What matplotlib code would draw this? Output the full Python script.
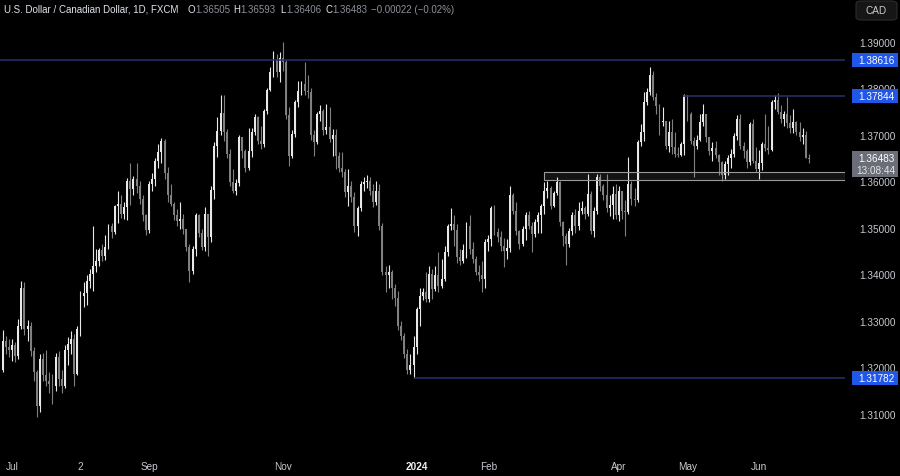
import numpy as np
import pandas as pd
import matplotlib
matplotlib.use("Agg")
import matplotlib.pyplot as plt
from matplotlib.patches import Rectangle, FancyBboxPatch

plt.rcParams["font.family"] = ["Liberation Sans", "DejaVu Sans"]

# ── Data: USD/CAD daily, FXCM ────────────────────────────────────────────────
dates = pd.bdate_range("2023-06-28", "2024-06-25")
first_open = 1.3195
last_open = 1.36505

close = [
    1.3258, 1.3245, 1.3238, 1.3248, 1.3225, 1.3290, 1.3370, 1.3283, 1.3290, 1.3236,
    1.3190, 1.3118, 1.3218, 1.3183, 1.3170, 1.3165, 1.3160, 1.3222, 1.3175, 1.3160,
    1.3238, 1.3250, 1.3262, 1.3185, 1.3283, 1.3354, 1.3360, 1.3385, 1.3400, 1.3419,
    1.3430, 1.3452, 1.3440, 1.3460, 1.3505, 1.3492, 1.3548, 1.3552, 1.3530, 1.3545,
    1.3600, 1.3584, 1.3605, 1.3590, 1.3562, 1.3527, 1.3495, 1.3595, 1.3605, 1.3645,
    1.3663, 1.3688, 1.3618, 1.3570, 1.3552, 1.3527, 1.3516, 1.3520, 1.3498, 1.3460,
    1.3408, 1.3455, 1.3527, 1.3490, 1.3460, 1.3530, 1.3480, 1.3582, 1.3677, 1.3709,
    1.3747, 1.3706, 1.3660, 1.3598, 1.3580, 1.3597, 1.3695, 1.3665, 1.3630, 1.3665,
    1.3707, 1.3738, 1.3688, 1.3680, 1.3752, 1.3797, 1.3835, 1.3862, 1.3835, 1.3865,
    1.3858, 1.3742, 1.3655, 1.3702, 1.3770, 1.3795, 1.3810, 1.3795, 1.3792, 1.3700,
    1.3685, 1.3745, 1.3752, 1.3710, 1.3717, 1.3691, 1.3699, 1.3655, 1.3630, 1.3620,
    1.3577, 1.3591, 1.3566, 1.3505, 1.3544, 1.3595, 1.3598, 1.3602, 1.3580, 1.3555,
    1.3580, 1.3505, 1.3405, 1.3398, 1.3405, 1.3372, 1.3350, 1.3290, 1.3268, 1.3230,
    1.3195, 1.3205, 1.3245, 1.3326, 1.3354, 1.3362, 1.3347, 1.3401, 1.3369, 1.3398,
    1.3376, 1.3390, 1.3448, 1.3505, 1.3509, 1.3495, 1.3437, 1.3430, 1.3452, 1.3505,
    1.3455, 1.3433, 1.3405, 1.3398, 1.3390, 1.3470, 1.3476, 1.3544, 1.3491, 1.3480,
    1.3462, 1.3450, 1.3458, 1.3570, 1.3537, 1.3494, 1.3466, 1.3498, 1.3527, 1.3505,
    1.3487, 1.3512, 1.3527, 1.3548, 1.3580, 1.3585, 1.3548, 1.3575, 1.3598, 1.3512,
    1.3483, 1.3466, 1.3494, 1.3527, 1.3505, 1.3537, 1.3544, 1.3530, 1.3573, 1.3494,
    1.3537, 1.3609, 1.3590, 1.3570, 1.3544, 1.3550, 1.3573, 1.3527, 1.3580, 1.3537,
    1.3534, 1.3595, 1.3562, 1.3560, 1.3684, 1.3706, 1.3770, 1.3792, 1.3828, 1.3781,
    1.3763, 1.3727, 1.3731, 1.3677, 1.3706, 1.3675, 1.3660, 1.3658, 1.3681, 1.3785,
    1.3745, 1.3688, 1.3677, 1.3690, 1.3727, 1.3745, 1.3695, 1.3666, 1.3672, 1.3656,
    1.3641, 1.3613, 1.3638, 1.3650, 1.3659, 1.3698, 1.3734, 1.3677, 1.3665, 1.3641,
    1.3724, 1.3645, 1.3627, 1.3640, 1.3681, 1.3673, 1.3668, 1.3770, 1.3775, 1.3750,
    1.3735, 1.3745, 1.3725, 1.3716, 1.3727, 1.3706, 1.3695, 1.3700, 1.3651, 1.36483,
]

high = [
    1.3280, 1.3268, 1.3262, 1.3262, 1.3255, 1.3305, 1.3387, 1.3384, 1.3302, 1.3298,
    1.3245, 1.3195, 1.3228, 1.3232, 1.3238, 1.3190, 1.3185, 1.3232, 1.3235, 1.3195,
    1.3248, 1.3265, 1.3278, 1.3272, 1.3290, 1.3365, 1.3383, 1.3398, 1.3412, 1.3505,
    1.3455, 1.3458, 1.3465, 1.3484, 1.3508, 1.3510, 1.3550, 1.3580, 1.3570, 1.3556,
    1.3608, 1.3640, 1.3612, 1.3640, 1.3600, 1.3570, 1.3530, 1.3602, 1.3618, 1.3650,
    1.3680, 1.3694, 1.3692, 1.3632, 1.3594, 1.3555, 1.3540, 1.3555, 1.3530, 1.3495,
    1.3465, 1.3462, 1.3532, 1.3530, 1.3498, 1.3545, 1.3530, 1.3590, 1.3685, 1.3738,
    1.3785, 1.3785, 1.3712, 1.3670, 1.3627, 1.3605, 1.3700, 1.3695, 1.3670, 1.3716,
    1.3716, 1.3745, 1.3740, 1.3720, 1.3756, 1.3800, 1.3846, 1.3881, 1.3874, 1.3878,
    1.3899, 1.3862, 1.3760, 1.3710, 1.3775, 1.3817, 1.3817, 1.3856, 1.3830, 1.3800,
    1.3710, 1.3750, 1.3765, 1.3756, 1.3767, 1.3760, 1.3713, 1.3713, 1.3663, 1.3663,
    1.3627, 1.3627, 1.3600, 1.3577, 1.3548, 1.3600, 1.3610, 1.3615, 1.3610, 1.3595,
    1.3600, 1.3595, 1.3510, 1.3419, 1.3420, 1.3410, 1.3380, 1.3365, 1.3300, 1.3275,
    1.3240, 1.3230, 1.3268, 1.3330, 1.3372, 1.3372, 1.3405, 1.3419, 1.3412, 1.3419,
    1.3448, 1.3433, 1.3462, 1.3508, 1.3544, 1.3527, 1.3509, 1.3455, 1.3465, 1.3513,
    1.3527, 1.3470, 1.3440, 1.3420, 1.3430, 1.3476, 1.3485, 1.3548, 1.3550, 1.3500,
    1.3494, 1.3478, 1.3476, 1.3591, 1.3575, 1.3555, 1.3495, 1.3505, 1.3534, 1.3537,
    1.3512, 1.3520, 1.3534, 1.3552, 1.3598, 1.3602, 1.3590, 1.3580, 1.3609, 1.3600,
    1.3515, 1.3490, 1.3500, 1.3535, 1.3540, 1.3555, 1.3558, 1.3548, 1.3616, 1.3580,
    1.3545, 1.3616, 1.3616, 1.3595, 1.3616, 1.3570, 1.3591, 1.3595, 1.3591, 1.3580,
    1.3560, 1.3652, 1.3600, 1.3585, 1.3690, 1.3724, 1.3792, 1.3800, 1.3846, 1.3838,
    1.3790, 1.3767, 1.3760, 1.3716, 1.3731, 1.3735, 1.3706, 1.3675, 1.3684, 1.3788,
    1.3785, 1.3750, 1.3695, 1.3700, 1.3745, 1.3767, 1.3745, 1.3695, 1.3684, 1.3688,
    1.3660, 1.3645, 1.3645, 1.3658, 1.3670, 1.3705, 1.3742, 1.3745, 1.3684, 1.3670,
    1.3727, 1.3734, 1.3675, 1.3668, 1.3684, 1.3745, 1.3720, 1.3775, 1.3785, 1.3791,
    1.3765, 1.3752, 1.3781, 1.3742, 1.3756, 1.3731, 1.3727, 1.3716, 1.3709, 1.36593,
]

low = [
    1.3190, 1.3228, 1.3222, 1.3215, 1.3212, 1.3218, 1.3282, 1.3270, 1.3258, 1.3225,
    1.3170, 1.3093, 1.3105, 1.3172, 1.3160, 1.3145, 1.3122, 1.3150, 1.3160, 1.3145,
    1.3155, 1.3205, 1.3228, 1.3160, 1.3183, 1.3268, 1.3330, 1.3335, 1.3372, 1.3365,
    1.3405, 1.3418, 1.3430, 1.3432, 1.3455, 1.3478, 1.3488, 1.3510, 1.3522, 1.3520,
    1.3518, 1.3550, 1.3570, 1.3575, 1.3552, 1.3515, 1.3485, 1.3490, 1.3580, 1.3590,
    1.3630, 1.3640, 1.3605, 1.3555, 1.3548, 1.3518, 1.3505, 1.3498, 1.3487, 1.3450,
    1.3383, 1.3400, 1.3440, 1.3480, 1.3452, 1.3450, 1.3440, 1.3470, 1.3562, 1.3652,
    1.3700, 1.3688, 1.3650, 1.3590, 1.3575, 1.3570, 1.3590, 1.3650, 1.3620, 1.3625,
    1.3652, 1.3700, 1.3680, 1.3670, 1.3675, 1.3745, 1.3795, 1.3825, 1.3825, 1.3815,
    1.3838, 1.3735, 1.3634, 1.3650, 1.3695, 1.3760, 1.3785, 1.3785, 1.3780, 1.3690,
    1.3655, 1.3680, 1.3730, 1.3700, 1.3702, 1.3685, 1.3655, 1.3627, 1.3620, 1.3610,
    1.3566, 1.3548, 1.3555, 1.3491, 1.3483, 1.3537, 1.3580, 1.3585, 1.3570, 1.3545,
    1.3550, 1.3495, 1.3398, 1.3362, 1.3370, 1.3347, 1.3333, 1.3280, 1.3260, 1.3220,
    1.3185, 1.3185, 1.3178, 1.3230, 1.3290, 1.3345, 1.3340, 1.3340, 1.3347, 1.3365,
    1.3362, 1.3372, 1.3385, 1.3440, 1.3495, 1.3462, 1.3425, 1.3420, 1.3425, 1.3435,
    1.3445, 1.3425, 1.3398, 1.3385, 1.3362, 1.3370, 1.3450, 1.3462, 1.3485, 1.3470,
    1.3451, 1.3416, 1.3433, 1.3448, 1.3530, 1.3485, 1.3455, 1.3462, 1.3475, 1.3498,
    1.3448, 1.3480, 1.3490, 1.3490, 1.3530, 1.3565, 1.3540, 1.3545, 1.3570, 1.3505,
    1.3462, 1.3420, 1.3460, 1.3485, 1.3490, 1.3495, 1.3530, 1.3520, 1.3525, 1.3488,
    1.3480, 1.3530, 1.3580, 1.3560, 1.3535, 1.3525, 1.3519, 1.3519, 1.3515, 1.3520,
    1.3483, 1.3530, 1.3550, 1.3548, 1.3555, 1.3677, 1.3688, 1.3765, 1.3785, 1.3775,
    1.3745, 1.3700, 1.3720, 1.3670, 1.3663, 1.3660, 1.3652, 1.3652, 1.3655, 1.3656,
    1.3730, 1.3681, 1.3609, 1.3670, 1.3688, 1.3720, 1.3684, 1.3656, 1.3645, 1.3650,
    1.3613, 1.3602, 1.3605, 1.3615, 1.3628, 1.3652, 1.3690, 1.3670, 1.3650, 1.3630,
    1.3635, 1.3640, 1.3620, 1.3605, 1.3625, 1.3665, 1.3660, 1.3666, 1.3755, 1.3745,
    1.3725, 1.3720, 1.3715, 1.3705, 1.3705, 1.3700, 1.3688, 1.3680, 1.3650, 1.36406,
]

# drawn levels
level_top = 1.38616
level_mid = 1.37844
level_low = 1.31782
zone_low, zone_high = 1.3604, 1.3621
level_mid_from = "2024-04-30"
level_low_from = "2024-01-01"
zone_from = "2024-02-27"

last_price = "1.36483"
countdown = "13:08:44"
tick_dates = ["2023-07-03", "2023-08-02", "2023-09-01", "2023-11-01", "2024-01-01",
              "2024-02-01", "2024-04-01", "2024-05-01", "2024-06-03"]
tick_labels = ["Jul", "2", "Sep", "Nov", "2024", "Feb", "Apr", "May", "Jun"]
price_ticks = [1.31, 1.32, 1.33, 1.34, 1.35, 1.36, 1.37, 1.38, 1.39]

# ── Prep ──────────────────────────────────────────────────────────────────────
c = np.array(close)
o = np.concatenate([[first_open], c[:-1]])
o[-1] = last_open
h = np.maximum.reduce([np.array(high), o, c])
l = np.minimum.reduce([np.array(low), o, c])
x = np.arange(len(c))
up = c >= o

UP_COL = "#e8e8e8"
DN_COL = "#808080"
cols = np.where(up, UP_COL, DN_COL)

pos = {d: i for i, d in enumerate(dates)}
def idx(d):
    return pos[pd.Timestamp(d)]

# ── Figure ────────────────────────────────────────────────────────────────────
fig = plt.figure(figsize=(9, 4.77), dpi=100, facecolor="black")
ax = fig.add_axes([0, 27 / 477, 845 / 900, 450 / 477])
ax.set_facecolor("black")
for s in ax.spines.values():
    s.set_visible(False)

ax.vlines(x, l, h, colors=cols, lw=0.8, zorder=2)
body = np.maximum(np.abs(c - o), 0.00006)
ax.bar(x, body, bottom=np.minimum(o, c), width=0.62, color=cols, lw=0, zorder=3)

xmax = 270.6
ax.set_xlim(-0.855, xmax)
ax.set_ylim(1.302473, 1.399247)

# levels and zone
LINE_COL = "#2a2f6e"
ax.hlines(level_top, -1, xmax, colors=LINE_COL, lw=1.1, zorder=4)
ax.hlines(level_mid, idx(level_mid_from) - 0.5, xmax, colors=LINE_COL, lw=1.1, zorder=4)
ax.hlines(level_low, idx(level_low_from) - 1, xmax, colors=LINE_COL, lw=1.1, zorder=4)
zx0 = idx(zone_from) - 0.2
ax.add_patch(Rectangle((zx0, zone_low), xmax - zx0, zone_high - zone_low,
                       fc=(1, 1, 1, 0.08), ec="#9a9a9a", lw=0.8, zorder=5))

# axes ticks
ax.set_xticks([idx(d) for d in tick_dates], tick_labels)
ax.tick_params(axis="x", length=0, pad=9, labelsize=7.2, labelcolor="#c8cad0")
ax.get_xticklabels()[4].set_fontweight("bold")
ax.get_xticklabels()[4].set_color("#f0f0f0")
ax.yaxis.tick_right()
ax.set_yticks(price_ticks, [f"{p:.5f}" for p in price_ticks])
ax.tick_params(axis="y", length=0, pad=10, labelsize=7.2, labelcolor="#c8cad0")

# ── Right-hand price tags ─────────────────────────────────────────────────────
def fig_y(p):
    return fig.transFigure.inverted().transform(ax.transData.transform((0, p)))[1]

PX = 1 / 477
for p in (level_top, level_mid, level_low):
    yc = fig_y(p)
    fig.add_artist(Rectangle((852 / 900, yc - 7 * PX), 46 / 900, 14 * PX,
                             transform=fig.transFigure, fc="#2157e8", ec="none", zorder=5))
    fig.text(876 / 900, yc, f"{p:.5f}", color="white", fontsize=7.2,
             ha="center", va="center", zorder=6)

yc = fig_y(float(last_price))
fig.add_artist(Rectangle((852 / 900, yc - 18 * PX), 46 / 900, 26 * PX,
                         transform=fig.transFigure, fc="#6b6e78", ec="none", zorder=5))
fig.text(876 / 900, yc + 1 * PX, last_price, color="white", fontsize=7.2,
         ha="center", va="center", zorder=6)
fig.text(876 / 900, yc - 11 * PX, countdown, color="#e4e4e4", fontsize=7.2,
         ha="center", va="center", zorder=6)

# CAD button
fig.add_artist(FancyBboxPatch((856 / 900, 1 - 21 * PX), 41 / 900, 19 * PX,
                              boxstyle="round,pad=0,rounding_size=0.006",
                              transform=fig.transFigure, fc="#161616", ec="#2c2c2c",
                              lw=0.8, zorder=5))
fig.text(876 / 900, 1 - 11 * PX, "CAD", color="#c8cad0", fontsize=7.2,
         ha="center", va="center", zorder=6)

# ── Header line ──────────────────────────────────────────────────────────────
TXT = "#e0e3eb"
NUM = "#8d909a"
yt = 1 - 10 * PX
parts = [
    (4, "U.S. Dollar / Canadian Dollar, 1D, FXCM", TXT),
    (188, "O", TXT), (195, "1.36505", NUM),
    (233, "H", TXT), (240, "1.36593", NUM),
    (280, "L", TXT), (286, "1.36406", NUM),
    (325, "C", TXT), (332, "1.36483", NUM),
    (371, "\u22120.00022 (\u22120.02%)", NUM),
]
for px, s, col in parts:
    fig.text(px / 900, yt, s, color=col, fontsize=7.0, ha="left", va="center")

fig.savefig("out.png", dpi=100, facecolor="black")
